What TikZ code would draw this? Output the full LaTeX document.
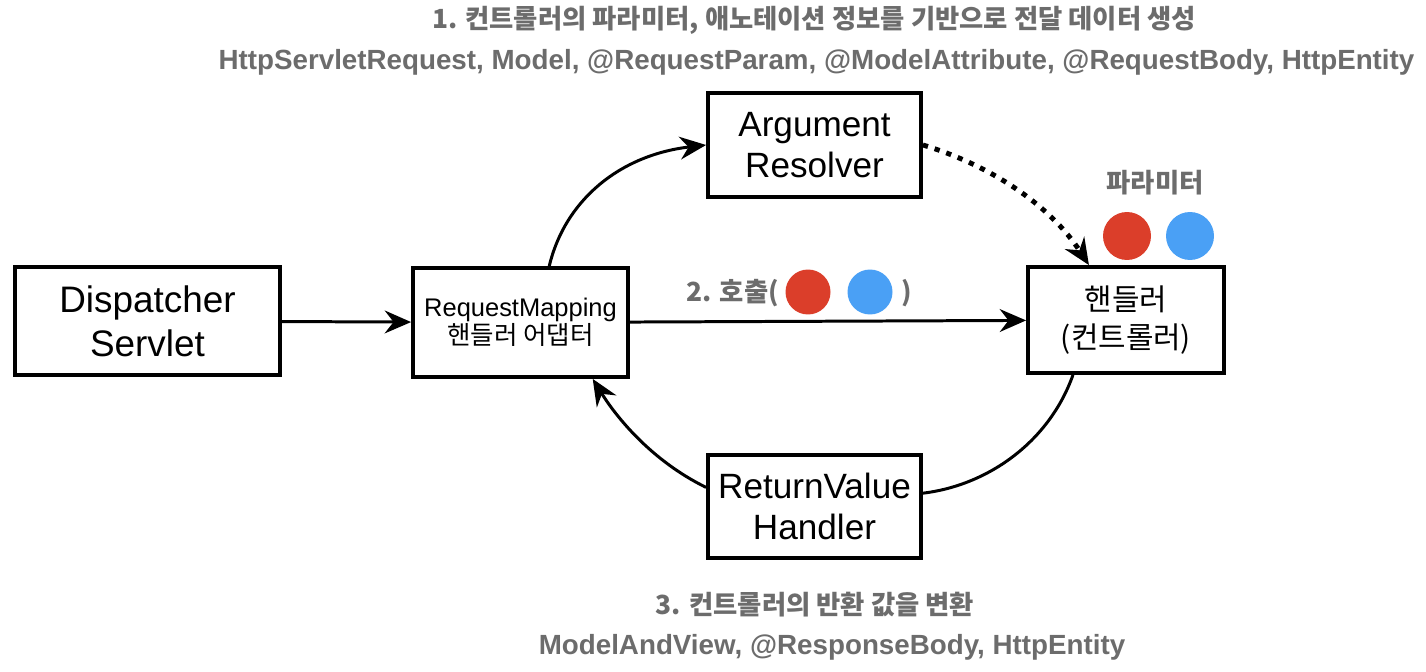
\documentclass[tikz,border=0pt]{standalone}
\usepackage{fontspec}
\setmainfont{Liberation Sans}
\newfontfamily\kr{Noto Sans CJK KR}
\usetikzlibrary{arrows.meta}
\definecolor{notegray}{RGB}{108,108,108}
\definecolor{argred}{RGB}{219,62,42}
\definecolor{argblue}{RGB}{74,160,245}
\begin{document}
\begin{tikzpicture}[>={Stealth[length=15pt,width=13pt,inset=5pt]},x=0.02cm,y=-0.02cm,
	box/.style={draw,line width=2.2pt,align=center,inner sep=0pt},
	flow/.style={->,line width=1.7pt},
	note/.style={text=notegray,font=\kr\bfseries\fontsize{15}{17}\selectfont},
	arg/.style={circle,inner sep=0pt,minimum size=0.9cm}]
		\useasboundingbox (0,0) rectangle (1426,672);
		% Boxes
		\node[box,minimum width=5.3cm,minimum height=2.16cm,font=\fontsize{21}{25}\selectfont] (ds) at (147.5,321) {Dispatcher\\Servlet};
		\node[box,minimum width=4.3cm,minimum height=2.18cm,font=\fontsize{14.5}{15}\selectfont] (rm) at (520.5,322.5) {RequestMapping\\{\kr 핸들러 어댑터}};
		\node[box,minimum width=4.26cm,minimum height=2.08cm,font=\fontsize{20}{23}\selectfont] (ar) at (814.5,145) {Argument\\Resolver};
		\node[box,minimum width=3.92cm,minimum height=2.12cm,font=\kr\fontsize{17}{22}\selectfont] (h) at (1126,320) {핸들러\\(컨트롤러)};
		\node[box,minimum width=4.26cm,minimum height=2.06cm,font=\fontsize{20}{23}\selectfont] (rv) at (814.5,506.5) {ReturnValue\\Handler};
		% Labels
		\node[note] (top1) at (814,20) {1. 컨트롤러의 파라미터, 애노테이션 정보를 기반으로 전달 데이터 생성};
		\node[note,font=\bfseries\fontsize{15.8}{17}\selectfont] (top2) at (816.5,62) {HttpServletRequest, Model, @RequestParam, @ModelAttribute, @RequestBody, HttpEntity};
		\node[note] (bot1) at (815,605) {3. 컨트롤러의 반환 값을 변환};
		\node[note,font=\bfseries\fontsize{15.8}{17}\selectfont] (bot2) at (832,647) {ModelAndView, @ResponseBody, HttpEntity};
		\node[note] (param) at (1155,183) {파라미터};
		\node[note,anchor=east] (call) at (785,293) {2. 호출(};
		\node[note,anchor=west] (close) at (895,293) {)};
		% Arguments
		\node[arg,fill=argred] (red1) at (808,292) {};
		\node[arg,fill=argblue] (blue1) at (870,292) {};
		\node[arg,fill=argred,minimum size=0.96cm] (red2) at (1127,236) {};
		\node[arg,fill=argblue,minimum size=0.96cm] (blue2) at (1190,236) {};
		% Arrows
		\draw[flow] (ds) -- (rm);
		\draw[flow] (rm) -- (h);
		\draw[flow] (rm.63) .. controls (565,200) and (620,155) .. (ar.west);
		\draw[flow,line width=2.8pt,dash pattern=on 3pt off 4pt] (ar.east) .. controls (990,165) and (1050,205) .. (h.124);
		\draw[line width=1.7pt] (h.-134) .. controls (1050,440) and (990,485) .. (rv.7);
		\draw[flow] (rv.170) .. controls (650,460) and (615,415) .. (rm.-38);
	\end{tikzpicture}
\end{document}
